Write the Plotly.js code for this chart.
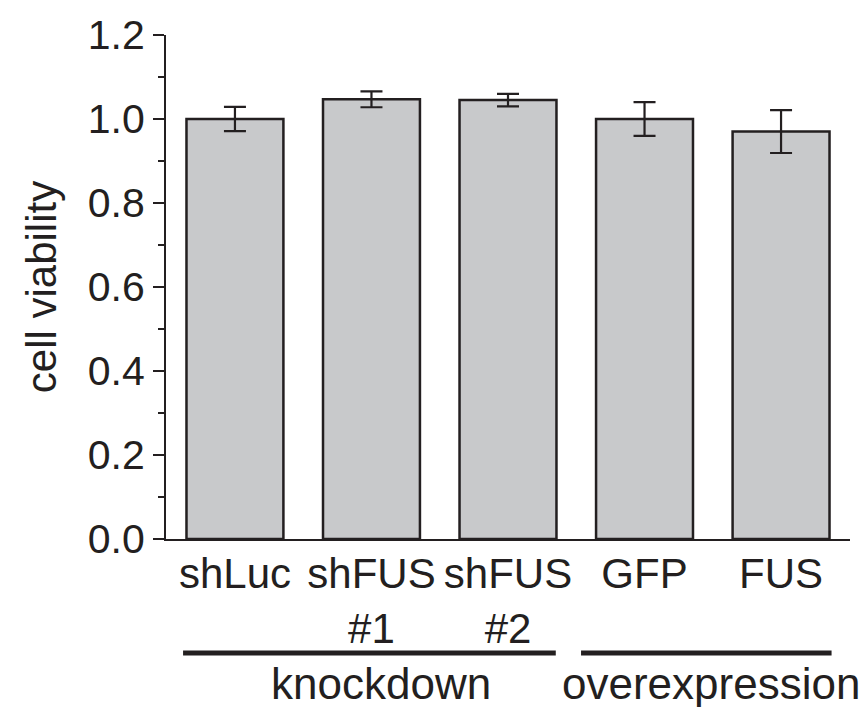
<!DOCTYPE html>
<html>
<head>
<meta charset="utf-8">
<script src="https://cdn.plot.ly/plotly-3.0.1.min.js"></script>
<style>html,body{margin:0;padding:0;background:#fff;}#chart{width:865px;height:707px;}</style>
</head>
<body>
<div id="chart"></div>
<script>
// Data
const categories = ["shLuc", "shFUS<br>#1", "shFUS<br>#2", "GFP", "FUS"];
const viability = [1.000, 1.047, 1.045, 1.000, 0.970];
const errors = [0.029, 0.019, 0.015, 0.040, 0.051];
const groupLabels = ["knockdown", "overexpression"];
const groupFirst = [0, 3];
const groupLast = [2, 4];

const ink = "#231f20";
const xIdx = categories.map((c, i) => i);

const trace = {
  type: "bar",
  x: xIdx,
  y: viability,
  width: 0.71,
  marker: { color: "#c8c9cb", line: { color: ink, width: 2.5 } },
  error_y: { type: "data", array: errors, visible: true, color: ink, thickness: 2.2, width: 11 },
  hoverinfo: "y"
};

const startPad = [-0.38, -0.465];
const endPad = [0.35, 0.37];
const labelPos = [1.07, 3.49];
const shapes = [];
const annotations = [];
groupLabels.forEach((g, k) => {
  shapes.push({ type: "line", xref: "x", yref: "paper",
    x0: groupFirst[k] + startPad[k], x1: groupLast[k] + endPad[k], y0: -0.226, y1: -0.226,
    line: { color: ink, width: 5 } });
  annotations.push({ xref: "x", yref: "paper", x: labelPos[k], y: -0.286, text: g,
    showarrow: false, xanchor: "center", yanchor: "middle",
    font: { family: "Liberation Sans, Arial, sans-serif", size: 44, color: ink } });
});

const layout = {
  width: 865, height: 707,
  margin: { l: 166, r: 15, t: 35, b: 168 },
  paper_bgcolor: "#fff", plot_bgcolor: "#fff",
  showlegend: false,
  font: { family: "Liberation Sans, Arial, sans-serif", color: ink },
  xaxis: {
    range: [-0.505, 4.505],
    tickmode: "array", tickvals: xIdx, ticktext: categories,
    ticks: "", showline: true, linecolor: ink, linewidth: 2,
    showgrid: false, zeroline: false,
    tickfont: { size: 42, color: ink },
    ticklabelstandoff: -3
  },
  yaxis: {
    range: [0, 1.2], dtick: 0.2, tickformat: ".1f",
    ticks: "outside", ticklen: 11, tickwidth: 2, tickcolor: ink,
    minor: { dtick: 0.1, ticks: "outside", ticklen: 6, tickwidth: 2, tickcolor: ink, showgrid: false },
    showline: true, linecolor: ink, linewidth: 2,
    showgrid: false, zeroline: false,
    tickfont: { size: 41, color: ink },
    title: { text: "cell viability", font: { size: 42, color: ink }, standoff: 18 }
  },
  shapes: shapes,
  annotations: annotations
};

Plotly.newPlot("chart", [trace], layout, { staticPlot: true, displayModeBar: false });
</script>
</body>
</html>
